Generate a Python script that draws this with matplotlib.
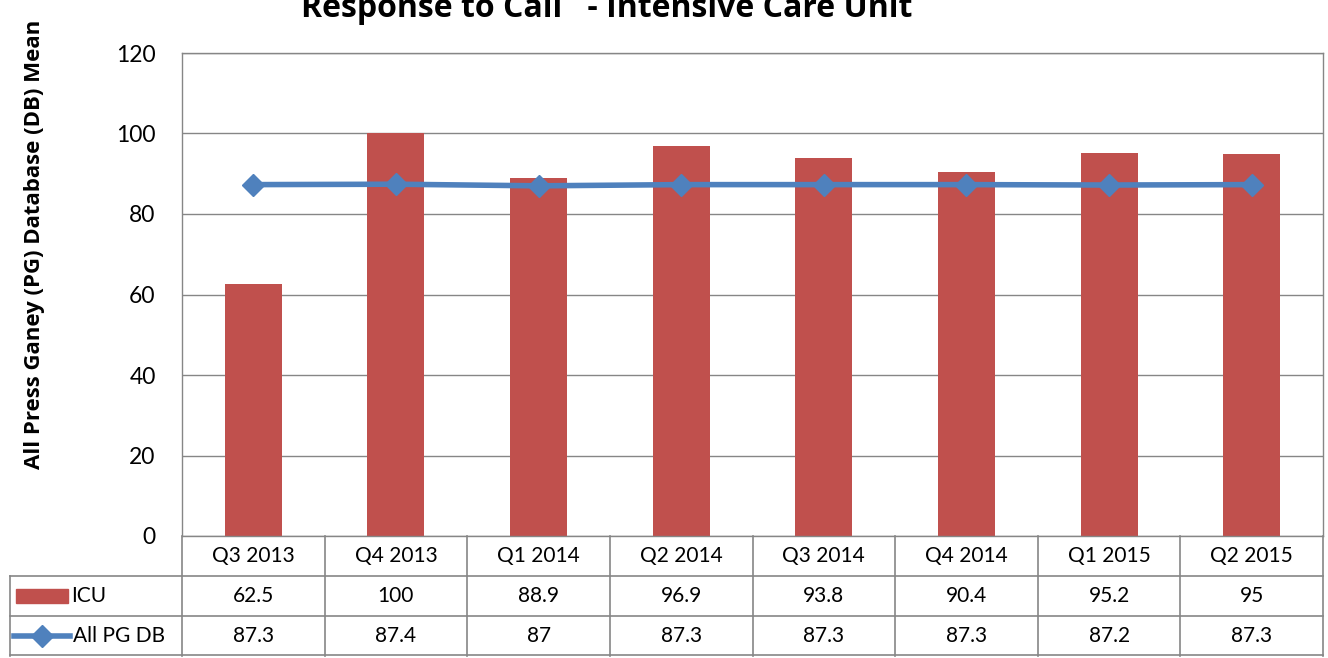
import matplotlib.pyplot as plt
import matplotlib.transforms as mtransforms
from matplotlib.lines import Line2D
from matplotlib.patches import Rectangle

quarters = ["Q3 2013", "Q4 2013", "Q1 2014", "Q2 2014", "Q3 2014", "Q4 2014", "Q1 2015", "Q2 2015"]
icu = [62.5, 100, 88.9, 96.9, 93.8, 90.4, 95.2, 95]
all_pg = [87.3, 87.4, 87, 87.3, 87.3, 87.3, 87.2, 87.3]
icu_labels = ["62.5", "100", "88.9", "96.9", "93.8", "90.4", "95.2", "95"]
pg_labels = ["87.3", "87.4", "87", "87.3", "87.3", "87.3", "87.2", "87.3"]

bar_color = "#C0504D"
line_color = "#4F81BD"
grid_color = "#868686"
plt.rcParams['font.family'] = ['Lato', 'DejaVu Sans']

W, H = 1328, 658
fig = plt.figure(figsize=(W / 100, H / 100), dpi=100)
left, right, top, bottom = 182, 1323, 53, 536
ax = fig.add_axes([left / W, 1 - bottom / H, (right - left) / W, (bottom - top) / H])

x = list(range(len(quarters)))
ax.bar(x, icu, width=0.4, color=bar_color, zorder=2)
ax.plot(x, all_pg, color=line_color, lw=4, marker="D", markersize=11, zorder=3)

ax.set_xlim(-0.5, len(quarters) - 0.5)
ax.set_ylim(0, 120)
ax.set_yticks(range(0, 121, 20))
ax.set_xticks([])
ax.tick_params(axis="y", labelsize=16.5, length=0, pad=19)
ax.yaxis.grid(True, color=grid_color, lw=1)
ax.set_axisbelow(True)
for s in ax.spines.values():
    s.set_color(grid_color)
    s.set_linewidth(1)

fig.text(35 / W, 1 - 244 / H, "All Press Ganey (PG) Database (DB) Mean", rotation=90,
         ha="center", va="center", fontsize=16, fontweight="bold", family=["Open Sans", "DejaVu Sans"])

fig.text(607 / W, 1 - 17 / H, "Response to Call   - Intensive Care Unit", ha="center", va="baseline",
         fontsize=23, fontweight="bold", family=["Open Sans", "DejaVu Sans"])

# data table below the plot
trans = mtransforms.blended_transform_factory(ax.transData, ax.transAxes)
row_h = 40 / (bottom - top)
unit = (right - left) / len(quarters)
lx = -0.5 - (left - 10) / unit
rx = len(quarters) - 0.5
kw = dict(transform=trans, color=grid_color, lw=1.2, clip_on=False)
# horizontal lines
ax.add_line(Line2D([lx, rx], [-row_h, -row_h], **kw))
ax.add_line(Line2D([lx, rx], [-2 * row_h, -2 * row_h], **kw))
ax.add_line(Line2D([lx, rx], [-3 * row_h + 0.002, -3 * row_h + 0.002], **kw))
# vertical lines
for i in range(len(quarters) + 1):
    ax.add_line(Line2D([i - 0.5, i - 0.5], [0, -3 * row_h], **kw))
ax.add_line(Line2D([lx, lx], [-row_h, -3 * row_h], **kw))

for i, q in enumerate(quarters):
    ax.text(i, -0.5 * row_h, q, transform=trans, ha="center", va="center", fontsize=15)
    ax.text(i, -1.5 * row_h, icu_labels[i], transform=trans, ha="center", va="center", fontsize=15)
    ax.text(i, -2.5 * row_h, pg_labels[i], transform=trans, ha="center", va="center", fontsize=15)

# legend keys in row labels
k0 = lx + 6 / unit
k1 = lx + 58 / unit
ax.add_patch(Rectangle((k0, -1.5 * row_h - 7 / (bottom - top)), k1 - k0, 14 / (bottom - top),
                       transform=trans, color=bar_color, clip_on=False))
ax.text(lx + 61 / unit, -1.5 * row_h, "ICU", transform=trans, ha="left", va="center", fontsize=15)
l0, l1 = lx + 4 / unit, lx + 60 / unit
ax.add_line(Line2D([l0, l1], [-2.5 * row_h, -2.5 * row_h], transform=trans,
                   color=line_color, lw=4, clip_on=False))
ax.add_line(Line2D([(l0 + l1) / 2], [-2.5 * row_h], transform=trans, color=line_color,
                   marker="D", markersize=11, clip_on=False))
ax.text(lx + 63 / unit, -2.5 * row_h, "All PG DB", transform=trans, ha="left", va="center", fontsize=15)

fig.savefig("out.png", dpi=100)
